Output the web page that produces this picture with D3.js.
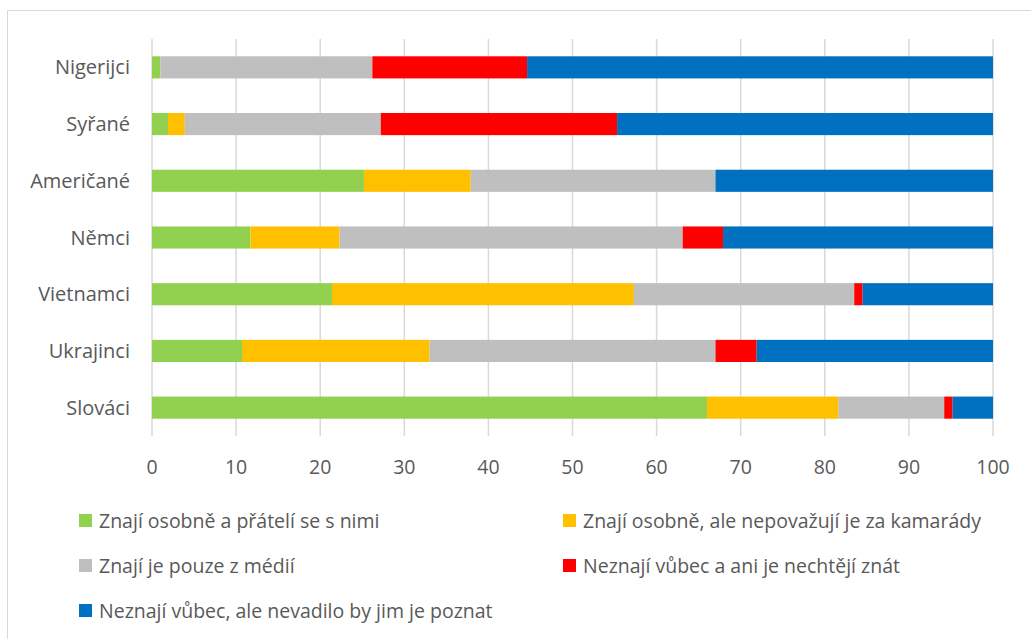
<!DOCTYPE html>
<html>
<head>
  <meta charset="utf-8">
  <title>Znalost skupin</title>
  <style>
    body { margin: 0; background: #fff; }
    text { font-family: "Open Sans", sans-serif; fill: #595959; }
  </style>
  <script src="https://d3js.org/d3.v7.min.js"></script>
</head>
<body>
  <svg id="chart" width="1031" height="639"></svg>

  <script>
    // data (percent)
    const groups = ['Nigerijci', 'Syřané', 'Američané', 'Němci', 'Vietnamci', 'Ukrajinci', 'Slováci'];
    const seriesNames = [
      'Znají osobně a přátelí se s nimi',
      'Znají osobně, ale nepovažují je za kamarády',
      'Znají je pouze z médií',
      'Neznají vůbec a ani je nechtějí znát',
      'Neznají vůbec, ale nevadilo by jim je poznat'
    ];
    const friends   = [1.0, 1.9, 25.2, 11.7, 21.4, 10.7, 66.0];
    const knowNot   = [0.0, 2.0, 12.7, 10.6, 35.9, 22.3, 15.6];
    const mediaOnly = [25.2, 23.3, 29.1, 40.8, 26.2, 34.0, 12.6];
    const dontWant  = [18.4, 28.1, 0.0, 4.8, 1.0, 4.9, 1.0];
    const wouldMeet = [55.4, 44.7, 33.0, 32.1, 15.5, 28.1, 4.8];
    const colors = ['#92D050', '#FFC000', '#BFBFBF', '#FF0000', '#0070C0'];
    const ticks = [0, 10, 20, 30, 40, 50, 60, 70, 80, 90, 100];

    const svg = d3.select('#chart');

    // chart frame
    svg.append('rect')
      .attr('x', 7.5).attr('y', 10.5)
      .attr('width', 1040).attr('height', 650)
      .attr('fill', '#fff').attr('stroke', '#D9D9D9').attr('stroke-width', 1);

    const plotL = 152, plotR = 993, plotT = 39, plotB = 436;

    const x = d3.scaleLinear().domain([0, 100]).range([plotL, plotR]);
    const y = d3.scaleBand().domain(groups).range([plotT, plotB]).paddingInner(0.61).paddingOuter(0.305);

    // gridlines
    svg.append('g')
      .selectAll('line')
      .data(ticks)
      .enter().append('line')
      .attr('x1', d => x(d)).attr('x2', d => x(d))
      .attr('y1', plotT).attr('y2', plotB)
      .attr('stroke', '#D9D9D9').attr('stroke-width', 1.5);

    // stacked bars
    const rows = groups.map((g, i) => ({
      group: g, s0: friends[i], s1: knowNot[i], s2: mediaOnly[i], s3: dontWant[i], s4: wouldMeet[i]
    }));
    const stack = d3.stack().keys(['s0', 's1', 's2', 's3', 's4']);
    const layers = stack(rows);

    svg.append('g')
      .selectAll('g')
      .data(layers)
      .enter().append('g')
      .attr('fill', (d, i) => colors[i])
      .selectAll('rect')
      .data(d => d)
      .enter().append('rect')
      .attr('x', d => x(d[0]))
      .attr('y', d => y(d.data.group))
      .attr('width', d => Math.max(0, x(d[1]) - x(d[0])))
      .attr('height', y.bandwidth());

    // category labels
    svg.append('g')
      .selectAll('text')
      .data(groups)
      .enter().append('text')
      .attr('x', 130)
      .attr('y', d => y(d) + y.bandwidth() / 2)
      .attr('dy', '0.35em')
      .attr('text-anchor', 'end')
      .attr('font-size', 20)
      .text(d => d);

    // value axis labels
    svg.append('g')
      .selectAll('text')
      .data(ticks)
      .enter().append('text')
      .attr('x', d => x(d))
      .attr('y', 467)
      .attr('dy', '0.35em')
      .attr('text-anchor', 'middle')
      .attr('font-size', 19.5)
      .text(d => d);

    // legend
    const legendPos = [[79, 521], [563, 521], [79, 566], [563, 566], [79, 611]];
    const legend = svg.append('g')
      .selectAll('g')
      .data(seriesNames)
      .enter().append('g')
      .attr('transform', (d, i) => `translate(${legendPos[i][0]},${legendPos[i][1]})`);
    legend.append('rect')
      .attr('x', 0).attr('y', -7)
      .attr('width', 13).attr('height', 13)
      .attr('fill', (d, i) => colors[i]);
    legend.append('text')
      .attr('x', 20).attr('y', 0)
      .attr('dy', '0.35em')
      .attr('font-size', 19.5)
      .text(d => d);
  </script>
</body>
</html>
